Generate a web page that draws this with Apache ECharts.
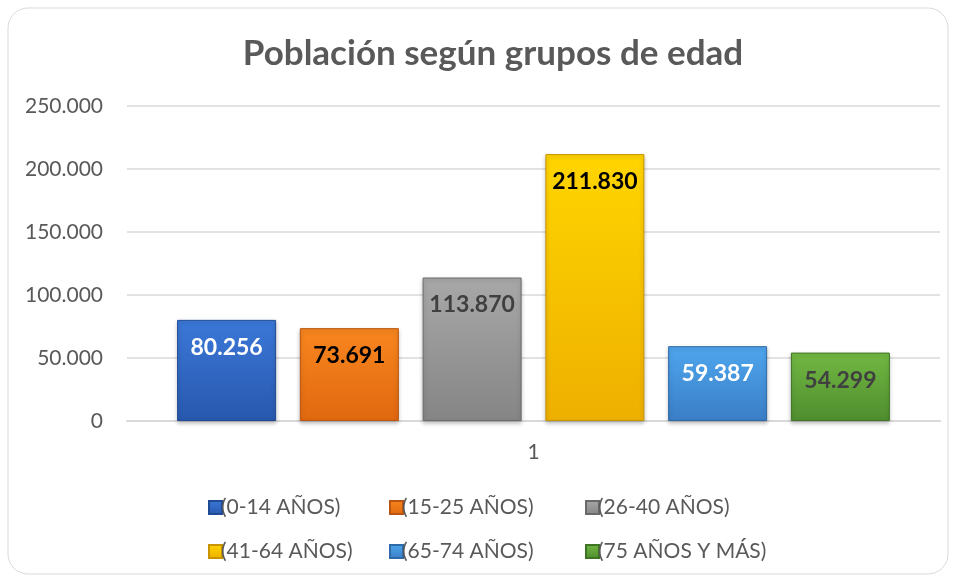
<!DOCTYPE html>
<html><head><meta charset="utf-8">
<script src="https://cdn.jsdelivr.net/npm/echarts@6/dist/echarts.min.js"></script>
<style>html,body{margin:0;padding:0;background:#fff}#c{width:955px;height:579px}</style>
</head><body><div id="c"></div>
<script>
const categories = ['1'];
const seriesNames = ['(0-14 AÑOS)','(15-25 AÑOS)','(26-40 AÑOS)','(41-64 AÑOS)','(65-74 AÑOS)','(75 AÑOS Y MÁS)'];
const seriesValues = [80256, 73691, 113870, 211830, 59387, 54299];
const yTicks = [0, 50000, 100000, 150000, 200000, 250000];

const topColors = ['#3b78d8','#f8861f','#a8a8a8','#ffd500','#4ea6ee','#72b843'];
const botColors = ['#2858ae','#e0680f','#858585','#eeb000','#3a7ec6','#4f8d2e'];
const edgeColors = ['#1f4a94','#b95510','#6a6a6a','#c89400','#2e6aa8','#3f7424'];
const labelColors = ['#ffffff','#000000','#404040','#000000','#ffffff','#404040'];
const FONT = 'Lato';

function fmt(v){ return String(v).replace(/\B(?=(\d{3})+(?!\d))/g, '.'); }

const series = seriesNames.map((n,i)=>({
  name: n, type: 'bar', barWidth: 99, barGap: '24%',
  data: [seriesValues[i]],
  itemStyle: {
    color: {type:'linear',x:0,y:0,x2:0,y2:1,colorStops:[{offset:0,color:topColors[i]},{offset:1,color:botColors[i]}]},
    borderColor: edgeColors[i], borderWidth: 1,
    shadowColor: 'rgba(0,0,0,0.25)', shadowBlur: 4, shadowOffsetY: 2
  },
  label: {show:true, position:'insideTop', distance:16, formatter: p=>fmt(p.value),
    color: labelColors[i], fontFamily: FONT, fontWeight:'bold', fontSize:23},
  emphasis:{disabled:true}
}));

const legendPos = [[203,492],[384,492],[580,492],[203,536],[384,536],[580,536]];
const legends = seriesNames.map((n,i)=>({
  data:[n], left: legendPos[i][0], top: legendPos[i][1], itemWidth:13, itemHeight:13, itemGap:0,
  icon:'rect', textStyle:{fontFamily:FONT, fontSize:21, color:'#595959', padding:[0,0,0,-6]}
}));

const chart = echarts.init(document.getElementById('c'));
chart.setOption({
  animation:false,
  graphic:[{type:'rect', shape:{x:8,y:8,width:940,height:566,r:20}, style:{fill:'none', stroke:'#d9d9d9', lineWidth:1}, z:-1}],
  title:{text:'Población según grupos de edad', left:488, textAlign:'center', top:31, textStyle:{fontFamily:FONT, fontWeight:'bold', fontSize:35, color:'#595959'}},
  legend: legends,
  grid:{left:127, right:15, top:106, bottom:158},
  xAxis:{type:'category', data:categories, axisLine:{lineStyle:{color:'#d9d9d9', width:2}}, axisTick:{show:false},
    axisLabel:{fontFamily:FONT, fontSize:21, color:'#595959', margin:21}},
  yAxis:{type:'value', min:yTicks[0], max:yTicks[yTicks.length-1], interval:50000,
    axisLine:{show:false}, axisTick:{show:false}, splitLine:{lineStyle:{color:'#d9d9d9', width:1.5}},
    axisLabel:{fontFamily:FONT, fontSize:21, color:'#595959', margin:24, formatter:v=>fmt(v)}},
  series: series
});
</script></body></html>
